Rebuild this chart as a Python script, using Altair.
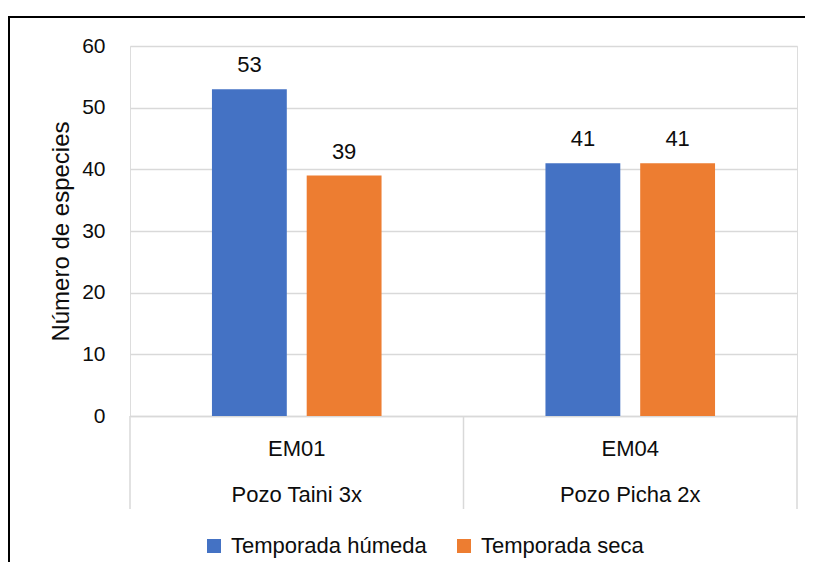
import altair as alt
import pandas as pd

# ---- data ----
stations = ["EM01", "EM04"]
sites = ["Pozo Taini 3x", "Pozo Picha 2x"]
seasons = ["Temporada húmeda", "Temporada seca"]
humeda = [53, 41]
seca = [39, 41]
y_ticks = [0, 10, 20, 30, 40, 50, 60]
colors = ["#4472C4", "#ED7D31"]

groups = [f"{s}|{p}" for s, p in zip(stations, sites)]
rows = []
for g, h, s in zip(groups, humeda, seca):
    rows.append({"grp": g, "season": seasons[0], "value": h})
    rows.append({"grp": g, "season": seasons[1], "value": s})
df = pd.DataFrame(rows)
gdf = pd.DataFrame({"grp": groups})

FONT = "Liberation Sans"
GRID = "#d9d9d9"
TXT = "#0d0d0d"

x_enc = alt.X(
    "grp:N",
    sort=groups,
    scale=alt.Scale(domain=groups, paddingInner=0, paddingOuter=0),
    title=None,
    axis=alt.Axis(
        labelAngle=0,
        labelExpr="split(datum.label, '|')",
        labelLineHeight=46,
        labelBaseline="top",
        labelPadding=22,
        labelFontSize=22,
        labelColor=TXT,
        labelFont=FONT,
        labelLimit=300,
        domain=True,
        domainColor=GRID,
        domainWidth=1.5,
        ticks=False,
        tickSize=0,
        grid=False,
    ),
)
xoff = alt.XOffset(
    "season:N", sort=seasons,
    scale=alt.Scale(domain=seasons, paddingInner=0.21, paddingOuter=0.865),
)
y_enc = alt.Y(
    "value:Q",
    scale=alt.Scale(domain=[0, 60], nice=False),
    axis=alt.Axis(
        values=y_ticks,
        title="Número de especies",
        titleFont=FONT,
        titleFontSize=24,
        titleFontWeight="normal",
        titleColor=TXT,
        titleAngle=270,
        titleAlign="center",
        titleBaseline="middle",
        titleX=-69,
        titleY=185,
        labelFont=FONT,
        labelFontSize=21,
        labelColor=TXT,
        labelPadding=25,
        domain=False,
        ticks=False,
        tickSize=0,
        grid=True,
        gridColor=GRID,
        gridWidth=1.5,
    ),
)

base = alt.Chart(df)

bars = base.mark_bar().encode(
    x=x_enc,
    xOffset=xoff,
    y=y_enc,
    color=alt.Color(
        "season:N",
        sort=seasons,
        scale=alt.Scale(domain=seasons, range=colors),
        title=None,
        legend=alt.Legend(
            orient="none",
            direction="horizontal",
            legendX=73,
            legendY=489,
            symbolType="square",
            symbolSize=196,
            symbolStrokeWidth=0,
            labelFont=FONT,
            labelFontSize=22,
            labelColor=TXT,
            labelLimit=400,
            labelOffset=6,
            columnPadding=26,
            padding=0,
        ),
    ),
)

labels = base.mark_text(
    font=FONT, fontSize=22, color=TXT, baseline="alphabetic", dy=-17
).encode(
    x=alt.X("grp:N", sort=groups),
    xOffset=alt.XOffset("season:N", sort=seasons),
    y="value:Q",
    text="value:Q",
)

sep_left = alt.Chart(gdf).mark_rule(color=GRID, strokeWidth=1.5).encode(
    x=alt.X("grp:N", sort=groups, bandPosition=0),
    y=alt.value(370),
    y2=alt.value(463),
)
sep_right = alt.Chart(gdf).transform_filter(
    alt.datum.grp == groups[-1]
).mark_rule(color=GRID, strokeWidth=1.5).encode(
    x=alt.X("grp:N", sort=groups, bandPosition=1),
    y=alt.value(370),
    y2=alt.value(463),
)

one = pd.DataFrame({"k": [0]})
border_top = alt.Chart(one).mark_rule(color="#000000", strokeWidth=2).encode(
    x=alt.value(-121), x2=alt.value(700), y=alt.value(-29)
)
border_left = alt.Chart(one).mark_rule(color="#000000", strokeWidth=2).encode(
    x=alt.value(-121), y=alt.value(-30), y2=alt.value(560)
)

chart = alt.layer(
    bars, labels, sep_left, sep_right, border_top, border_left
).properties(
    width=667,
    height=370,
    autosize=alt.AutoSizeParams(type="none"),
    padding={"left": 122, "top": 38, "right": 8, "bottom": 146},
).configure_view(strokeWidth=0).configure(background="#ffffff")

chart.save("out.html", embed_options={"renderer": "svg", "actions": False})
